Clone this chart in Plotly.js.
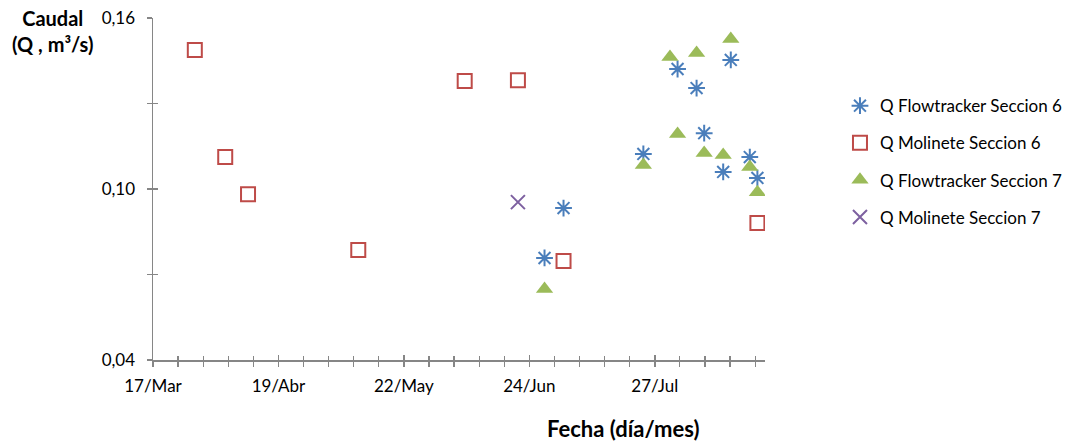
<!DOCTYPE html>
<html>
<head>
<meta charset="utf-8">
<script src="https://cdn.plot.ly/plotly-3.0.1.min.js"></script>
<style>html,body{margin:0;padding:0;background:#fff;}#chart{width:1068px;height:445px;}</style>
</head>
<body>
<div id="chart"></div>
<script>
// Data
var flow6Dates = ['2013-06-28','2013-07-03','2013-07-24','2013-08-02','2013-08-07','2013-08-09','2013-08-14','2013-08-16','2013-08-21','2013-08-23'];
var flow6Q     = [0.0758, 0.0933, 0.1123, 0.1421, 0.1354, 0.1196, 0.1060, 0.1453, 0.1112, 0.1039];

var mol6Dates = ['2013-03-28','2013-04-05','2013-04-11','2013-05-10','2013-06-07','2013-06-21','2013-07-03','2013-08-23'];
var mol6Q     = [0.1488, 0.1112, 0.0982, 0.0786, 0.1379, 0.1382, 0.0747, 0.0881];

var flow7Dates = ['2013-06-28','2013-07-24','2013-07-31','2013-08-02','2013-08-07','2013-08-09','2013-08-14','2013-08-16','2013-08-21','2013-08-23'];
var flow7Q     = [0.0649, 0.1084, 0.1463, 0.1193, 0.1477, 0.1126, 0.1119, 0.1526, 0.1077, 0.0989];

var mol7Dates = ['2013-06-21'];
var mol7Q     = [0.0954];

var seriesNames = ['Q Flowtracker Seccion 6', 'Q Molinete Seccion 6', 'Q Flowtracker Seccion 7', 'Q Molinete Seccion 7'];

var xTickVals = ['2013-03-17','2013-04-19','2013-05-22','2013-06-24','2013-07-27'];
var xTickText = ['17/Mar','19/Abr','22/May','24/Jun','27/Jul'];
var yTickVals = [0.04, 0.07, 0.10, 0.13, 0.16];
var yTickText = ['0,04', '', '0,10', '', '0,16'];

var xRange = ['2013-03-17', '2013-08-25'];
var yRange = [0.04, 0.16];

var FONT = 'Lato, "Open Sans", sans-serif';
var AX = '#868686';
var DAY = 86400000;

var traces = [
  {x: flow6Dates, y: flow6Q, name: seriesNames[0], type: 'scatter', mode: 'markers', legendgroup: 'a',
   marker: {symbol: 'asterisk-open', size: 14, color: '#4a7ebb', line: {color: '#4a7ebb', width: 2}}},
  {x: mol6Dates, y: mol6Q, name: seriesNames[1], type: 'scatter', mode: 'markers', legendgroup: 'b',
   marker: {symbol: 'square-open', size: 14, color: '#be4b48', line: {color: '#be4b48', width: 2}}},
  {x: flow7Dates, y: flow7Q, name: seriesNames[2], type: 'scatter', mode: 'markers', legendgroup: 'c',
   marker: {symbol: 'triangle-up', size: 15, color: '#9bbb59', line: {width: 0}}},
  {x: mol7Dates, y: mol7Q, name: seriesNames[3], type: 'scatter', mode: 'markers', legendgroup: 'd',
   marker: {symbol: 'x-thin-open', size: 14, color: '#7d60a0', line: {color: '#7d60a0', width: 2}}},
  {x: [], y: [], xaxis: 'x2', yaxis: 'y2', showlegend: false, hoverinfo: 'skip', type: 'scatter', mode: 'markers'}
];

var layout = {
  width: 1068, height: 445,
  margin: {l: 153, r: 303, t: 18, b: 85, autoexpand: false},
  paper_bgcolor: '#fff', plot_bgcolor: '#fff',
  showlegend: true,
  font: {family: FONT, size: 16, color: '#000'},
  xaxis: {
    type: 'date', range: xRange, showgrid: false, zeroline: false,
    showline: true, linecolor: AX, linewidth: 1.5,
    tickmode: 'array', tickvals: xTickVals, ticktext: xTickText,
    ticks: 'outside', ticklen: 5, tickwidth: 1.5, tickcolor: AX,
    ticklabelstandoff: 5,
    tickfont: {family: FONT, size: 17, color: '#000'},
    minor: {tick0: '2013-03-17', dtick: 6.6 * DAY, ticks: 'outside', ticklen: 5, tickwidth: 1.2, tickcolor: AX, showgrid: false}
  },
  yaxis: {
    range: yRange, showgrid: false, zeroline: false,
    showline: true, linecolor: AX, linewidth: 1.5,
    tickmode: 'array', tickvals: yTickVals, ticktext: yTickText,
    ticks: 'outside', ticklen: 5, tickwidth: 1.5, tickcolor: AX,
    ticklabelstandoff: 8,
    tickfont: {family: FONT, size: 17, color: '#000'}
  },
  xaxis2: {
    type: 'date', range: xRange, overlaying: 'x', anchor: 'y2', side: 'bottom',
    showgrid: false, zeroline: false, showline: false, showticklabels: false,
    tickmode: 'array', tickvals: xTickVals,
    ticks: 'inside', ticklen: 5, tickwidth: 1.5, tickcolor: AX,
    minor: {tick0: '2013-03-17', dtick: 6.6 * DAY, ticks: 'inside', ticklen: 4, tickwidth: 1.2, tickcolor: AX, showgrid: false}
  },
  yaxis2: {
    range: yRange, overlaying: 'y', anchor: 'x2', side: 'left',
    showgrid: false, zeroline: false, showline: false, showticklabels: false,
    tickmode: 'array', tickvals: yTickVals,
    ticks: 'inside', ticklen: 5, tickwidth: 1.5, tickcolor: AX
  },
  legend: {
    xref: 'container', yref: 'container',
    x: 0.7865, xanchor: 'left', y: 0.802, yanchor: 'top',
    traceorder: 'grouped', tracegroupgap: 12, itemwidth: 30,
    font: {family: FONT, size: 17, color: '#000'},
    bgcolor: 'rgba(0,0,0,0)'
  },
  annotations: [
    {text: '<b>Caudal</b><br><b>(Q , m³/s)</b>', xref: 'paper', yref: 'paper',
     x: -0.165, y: 0.962, xanchor: 'center', yanchor: 'middle', showarrow: false, align: 'center',
     font: {family: FONT, size: 20, color: '#000'}},
    {text: '<b>Fecha (día/mes)</b>', xref: 'paper', yref: 'paper',
     x: 0.768, y: -0.199, xanchor: 'center', yanchor: 'middle', showarrow: false,
     font: {family: FONT, size: 22, color: '#000'}}
  ]
};

Plotly.newPlot('chart', traces, layout, {displayModeBar: false, staticPlot: true});
</script>
</body>
</html>
